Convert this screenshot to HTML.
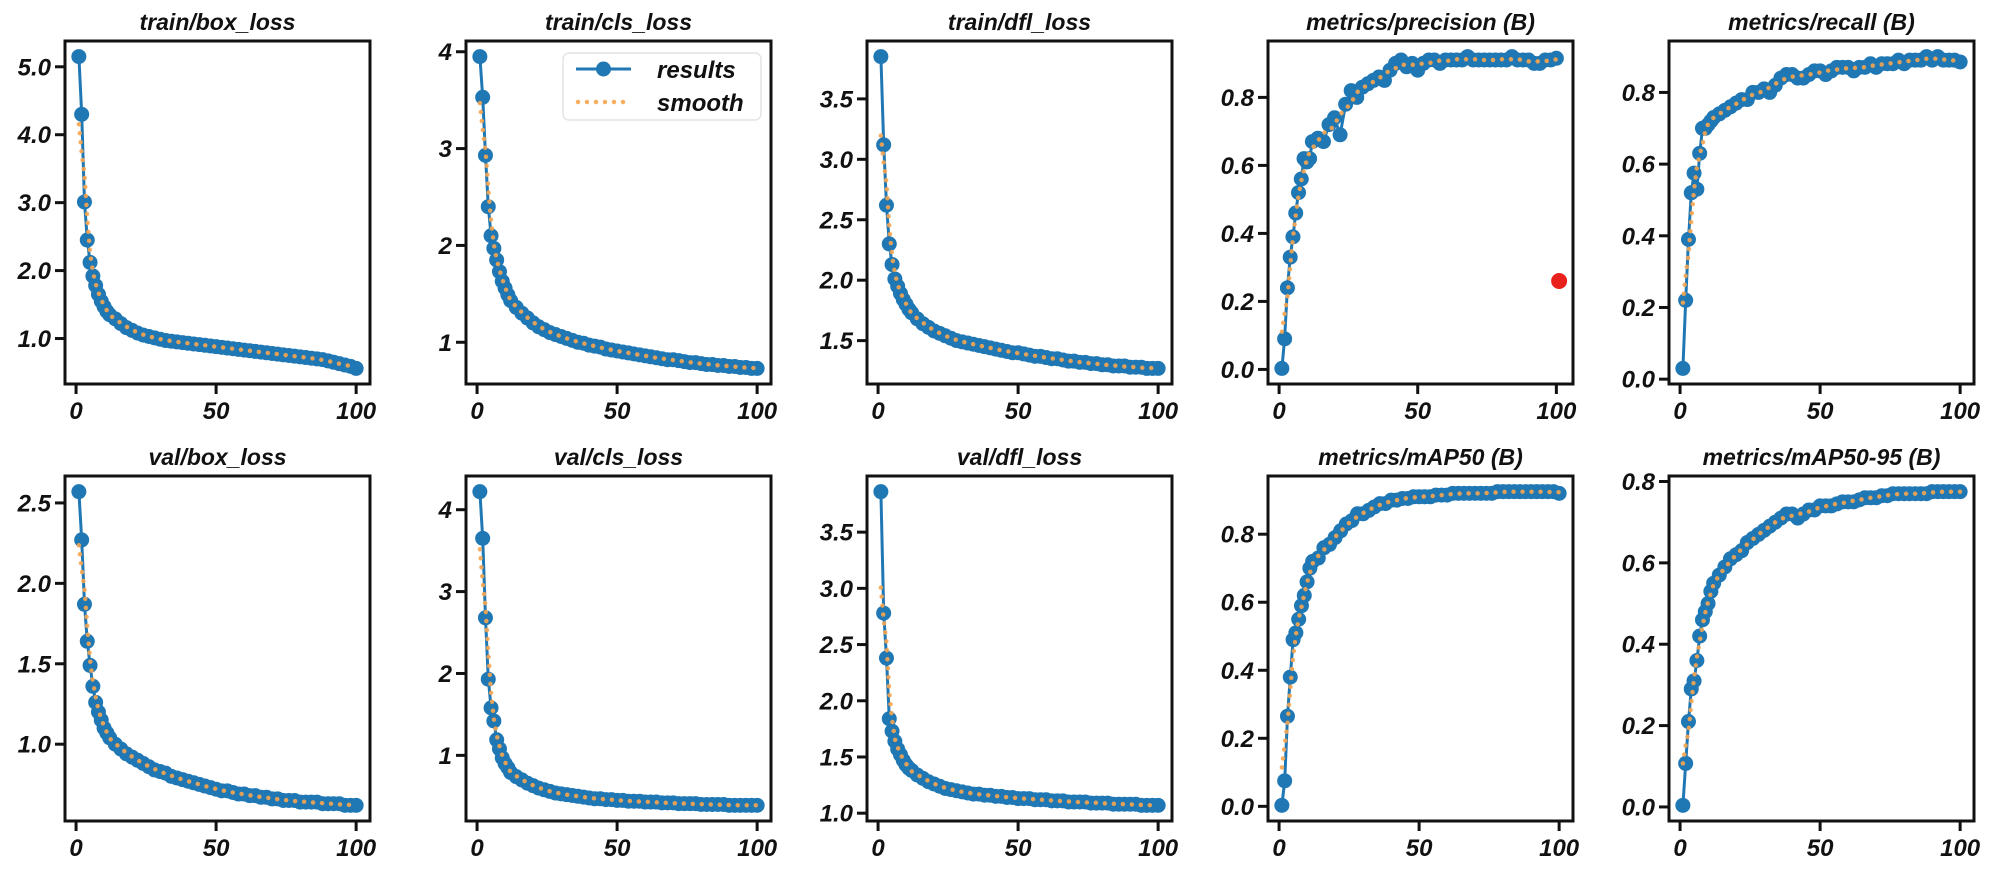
<!DOCTYPE html>
<html><head><meta charset="utf-8"><style>
html,body{margin:0;padding:0;background:#fff;}
svg text{font-family:"Liberation Sans",sans-serif;font-weight:bold;font-style:italic;fill:#111;}
</style></head><body>
<svg id="fig" xmlns="http://www.w3.org/2000/svg" width="2000" height="865" viewBox="0 0 2000 865"></svg>
<script>
const epochs=[1,2,3,4,5,6,7,8,9,10,11,12,14,16,18,20,22,24,26,28,30,32,34,36,38,40,42,44,46,48,50,52,54,56,58,60,62,64,66,68,70,72,74,76,78,80,82,84,86,88,90,92,94,96,98,100];
const trainBox=[5.15,4.30,3.01,2.45,2.12,1.92,1.78,1.65,1.55,1.47,1.40,1.35,1.29,1.22,1.16,1.12,1.08,1.05,1.03,1.01,0.99,0.97,0.96,0.95,0.94,0.93,0.92,0.91,0.90,0.89,0.88,0.87,0.86,0.85,0.84,0.83,0.82,0.81,0.80,0.79,0.78,0.77,0.76,0.75,0.74,0.73,0.72,0.71,0.70,0.69,0.67,0.65,0.63,0.61,0.59,0.56];
const trainCls=[3.95,3.53,2.93,2.40,2.10,1.97,1.85,1.73,1.63,1.56,1.49,1.43,1.36,1.30,1.25,1.20,1.16,1.13,1.10,1.08,1.06,1.04,1.02,1.00,0.99,0.97,0.96,0.95,0.93,0.92,0.91,0.90,0.89,0.88,0.87,0.86,0.85,0.84,0.83,0.82,0.82,0.81,0.80,0.79,0.79,0.78,0.77,0.77,0.76,0.76,0.75,0.75,0.74,0.74,0.73,0.73];
const trainDfl=[3.85,3.12,2.62,2.30,2.13,2.01,1.95,1.89,1.84,1.80,1.76,1.73,1.68,1.64,1.61,1.58,1.56,1.54,1.52,1.50,1.49,1.48,1.47,1.46,1.45,1.44,1.43,1.42,1.41,1.40,1.40,1.39,1.38,1.37,1.37,1.36,1.35,1.35,1.34,1.33,1.33,1.32,1.32,1.31,1.31,1.30,1.30,1.29,1.29,1.29,1.28,1.28,1.28,1.27,1.27,1.27];
const precision=[0.003,0.09,0.24,0.33,0.39,0.46,0.52,0.56,0.62,0.61,0.62,0.67,0.68,0.67,0.72,0.74,0.69,0.78,0.82,0.80,0.83,0.84,0.85,0.86,0.85,0.88,0.90,0.91,0.89,0.90,0.88,0.90,0.91,0.91,0.90,0.91,0.91,0.91,0.91,0.92,0.91,0.91,0.91,0.91,0.91,0.91,0.91,0.92,0.91,0.91,0.91,0.90,0.90,0.91,0.91,0.915];
const precisionOutlierX=[101];
const precisionOutlierY=[0.26];
const recall=[0.03,0.22,0.39,0.52,0.575,0.53,0.63,0.70,0.70,0.71,0.72,0.73,0.74,0.75,0.76,0.77,0.78,0.78,0.80,0.80,0.81,0.80,0.82,0.84,0.85,0.85,0.84,0.84,0.85,0.86,0.86,0.85,0.86,0.87,0.87,0.87,0.86,0.87,0.87,0.88,0.87,0.88,0.88,0.88,0.89,0.88,0.89,0.89,0.89,0.90,0.89,0.90,0.89,0.89,0.89,0.885];
const valBox=[2.57,2.27,1.87,1.64,1.49,1.36,1.26,1.20,1.15,1.10,1.07,1.04,1.00,0.97,0.94,0.92,0.90,0.88,0.86,0.84,0.83,0.82,0.80,0.79,0.78,0.77,0.76,0.75,0.74,0.73,0.72,0.71,0.71,0.70,0.69,0.69,0.68,0.68,0.67,0.67,0.66,0.66,0.65,0.65,0.65,0.64,0.64,0.64,0.64,0.63,0.63,0.63,0.63,0.62,0.62,0.62];
const valCls=[4.22,3.65,2.68,1.93,1.58,1.42,1.19,1.08,0.97,0.90,0.85,0.79,0.74,0.70,0.66,0.63,0.60,0.58,0.56,0.54,0.53,0.52,0.51,0.50,0.49,0.48,0.47,0.47,0.46,0.46,0.45,0.45,0.44,0.44,0.44,0.43,0.43,0.43,0.42,0.42,0.42,0.41,0.41,0.41,0.41,0.40,0.40,0.40,0.40,0.40,0.39,0.39,0.39,0.39,0.39,0.39];
const valDfl=[3.86,2.78,2.38,1.84,1.73,1.64,1.57,1.52,1.47,1.43,1.40,1.38,1.34,1.31,1.28,1.26,1.24,1.22,1.21,1.20,1.19,1.18,1.17,1.17,1.16,1.16,1.15,1.15,1.14,1.14,1.13,1.13,1.13,1.12,1.12,1.12,1.11,1.11,1.11,1.10,1.10,1.10,1.10,1.09,1.09,1.09,1.09,1.08,1.08,1.08,1.08,1.08,1.07,1.07,1.07,1.07];
const map50=[0.003,0.075,0.265,0.38,0.49,0.51,0.55,0.59,0.62,0.66,0.70,0.72,0.73,0.76,0.77,0.79,0.81,0.83,0.84,0.86,0.86,0.87,0.88,0.89,0.89,0.90,0.90,0.905,0.905,0.91,0.91,0.91,0.91,0.915,0.915,0.915,0.92,0.92,0.92,0.92,0.92,0.92,0.92,0.92,0.925,0.925,0.925,0.925,0.925,0.925,0.925,0.925,0.925,0.925,0.925,0.92];
const map5095=[0.004,0.107,0.21,0.29,0.31,0.36,0.42,0.46,0.48,0.50,0.53,0.55,0.57,0.59,0.61,0.62,0.63,0.65,0.66,0.67,0.68,0.69,0.70,0.71,0.72,0.72,0.71,0.72,0.73,0.73,0.74,0.74,0.74,0.745,0.75,0.75,0.75,0.755,0.76,0.76,0.76,0.765,0.765,0.77,0.77,0.77,0.77,0.77,0.77,0.77,0.775,0.775,0.775,0.775,0.775,0.775];
const titles=["train/box_loss","train/cls_loss","train/dfl_loss","metrics/precision  (B)","metrics/recall  (B)","val/box_loss","val/cls_loss","val/dfl_loss","metrics/mAP50  (B)","metrics/mAP50-95  (B)"];
const yTicks=[[1,2,3,4,5],[1,2,3,4],[1.5,2,2.5,3,3.5],[0,0.2,0.4,0.6,0.8],[0,0.2,0.4,0.6,0.8],[1,1.5,2,2.5],[1,2,3,4],[1,1.5,2,2.5,3,3.5],[0,0.2,0.4,0.6,0.8],[0,0.2,0.4,0.6,0.8]];
const yTickLabels=[["1.0","2.0","3.0","4.0","5.0"],["1","2","3","4"],["1.5","2.0","2.5","3.0","3.5"],["0.0","0.2","0.4","0.6","0.8"],["0.0","0.2","0.4","0.6","0.8"],["1.0","1.5","2.0","2.5"],["1","2","3","4"],["1.0","1.5","2.0","2.5","3.0","3.5"],["0.0","0.2","0.4","0.6","0.8"],["0.0","0.2","0.4","0.6","0.8"]];
const xTicks=[0,50,100];
const xTickLabels=["0","50","100"];
const series=[trainBox,trainCls,trainDfl,precision,recall,valBox,valCls,valDfl,map50,map5095];
const names=["train-box-loss","train-cls-loss","train-dfl-loss","precision","recall","val-box-loss","val-cls-loss","val-dfl-loss","map50","map50-95"];

const NS="http://www.w3.org/2000/svg";
const fig=document.getElementById('fig');
function mk(tag,attrs,parent){const e=document.createElementNS(NS,tag);for(const k in attrs)e.setAttribute(k,attrs[k]);(parent||fig).appendChild(e);return e;}
const lefts=[65,466,867,1268,1669], W=305;
const tops=[41,476], Hs=[343,345];
function smooth(v){const out=[];for(let i=0;i<v.length;i++){let s=0,c=0;for(let j=Math.max(0,i-2);j<=Math.min(v.length-1,i+2);j++){s+=v[j];c++;}out.push(s/c);}return out;}

for(let p=0;p<10;p++){
  const col=p%5,row=Math.floor(p/5);
  const L=lefts[col],T=tops[row],H=Hs[row],R=L+W,B=T+H;
  const data=series[p];const n=Math.min(epochs.length,data.length);
  let xs=epochs.slice(0,n),ys=data.slice(0,n);
  let allX=xs.slice(),allY=ys.slice();
  if(p===3){allX=allX.concat(precisionOutlierX);allY=allY.concat(precisionOutlierY);}
  const xmin=Math.min(...allX),xmax=Math.max(...allX),ymin=Math.min(...allY),ymax=Math.max(...allY);
  const xm=(xmax-xmin)*0.05,ym=(ymax-ymin)*0.05;
  const X=v=>L+(v-(xmin-xm))/((xmax+xm)-(xmin-xm))*W;
  const Y=v=>B-(v-(ymin-ym))/((ymax+ym)-(ymin-ym))*H;
  const g=mk('g',{});
  
  
  const t=mk('text',{x:(L+R)/2,y:T-11,'text-anchor':'middle','font-size':23},g);t.textContent=titles[p];
  
  
  const cp='clip'+p;
  const cl=mk('clipPath',{id:cp},g);mk('rect',{x:L,y:T,width:W,height:H},cl);
  const plot=mk('g',{'clip-path':'url(#'+cp+')'},g);
  const pts=xs.map((x,i)=>X(x).toFixed(1)+','+Y(ys[i]).toFixed(1)).join(' ');
  const line=mk('polyline',{points:pts,fill:'none',stroke:'#1f77b4','stroke-width':3},plot);
  
  
  xs.forEach((x,i)=>{const c=mk('circle',{cx:X(x),cy:Y(ys[i]),r:7.5,fill:'#1f77b4'},plot);
    
    });
  const sm=smooth(ys);
  const sp=mk('polyline',{points:xs.map((x,i)=>X(x).toFixed(1)+','+Y(sm[i]).toFixed(1)).join(' '),fill:'none',stroke:'#f7a54f','stroke-opacity':0.9,'stroke-width':4.5,'stroke-dasharray':'0 9','stroke-linecap':'round'},plot);
  
  
  if(p===3){precisionOutlierX.forEach((x,i)=>{const c=mk('circle',{cx:X(x),cy:Y(precisionOutlierY[i]),r:8,fill:'#e8211c'},g);
    
    });}
  const frame=mk('rect',{x:L,y:T,width:W,height:H,fill:'none',stroke:'#111','stroke-width':3},g);
  
  
  yTicks[p].forEach((v,i)=>{const y=Y(v);mk('line',{x1:L-10,x2:L,y1:y,y2:y,stroke:'#111','stroke-width':3},g);
    const tl=mk('text',{x:L-14,y:y+8.5,'text-anchor':'end','font-size':24},g);tl.textContent=yTickLabels[p][i];
    
    });
  xTicks.forEach((v,i)=>{const x=X(v);mk('line',{x1:x,x2:x,y1:B,y2:B+10,stroke:'#111','stroke-width':3},g);
    const tl=mk('text',{x:x,y:B+35,'text-anchor':'middle','font-size':24},g);tl.textContent=xTickLabels[i];
    
    });
}
// legend
const lg=mk('g',{});


mk('rect',{x:563,y:53,width:198,height:67,rx:6,fill:'#fff','fill-opacity':0.85,stroke:'#e4e4e4','stroke-width':1.5},lg);
mk('line',{x1:576,x2:631,y1:69,y2:69,stroke:'#1f77b4','stroke-width':3},lg);
mk('circle',{cx:603.5,cy:69,r:7.5,fill:'#1f77b4'},lg);
mk('line',{x1:578,x2:631,y1:102,y2:102,stroke:'#f7a54f','stroke-opacity':0.9,'stroke-width':4.5,'stroke-dasharray':'0 9','stroke-linecap':'round'},lg);
const l1=mk('text',{x:657,y:78,'font-size':24},lg);l1.textContent='results';


const l2=mk('text',{x:657,y:111,'font-size':24},lg);l2.textContent='smooth';


</script>
</body></html>
